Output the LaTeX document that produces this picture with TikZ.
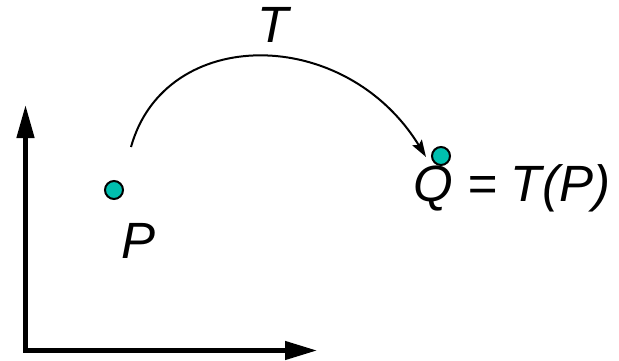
\documentclass[tikz,border=0pt]{standalone}
\usepackage{fontspec}
\setmainfont{Liberation Sans}
\usetikzlibrary{arrows.meta}
\definecolor{dotteal}{RGB}{0,191,175}
\tikzset{
  pt/.style={circle, draw=black, line width=2pt, fill=dotteal, minimum size=18pt, inner sep=0pt},
  lbl/.style={inner sep=0pt, font=\fontsize{51}{58}\selectfont\itshape},
  axis/.style={line width=4.5pt, line join=miter, {Triangle[length=33pt,width=17pt]}-{Triangle[length=32pt,width=18pt]}},
  mapping/.style={line width=2pt, -{Stealth[length=17pt,width=11pt,inset=3pt]}}
}
\begin{document}
\begin{tikzpicture}[x=1pt,y=-1pt]
\useasboundingbox (0,0) rectangle (619,361);
\node[pt] (P) at (114,190) {};
\node[pt] (Q) at (441,156) {};
\node[lbl, anchor=base] (Plbl) at (139,258) {P};
\node[lbl, anchor=base west] (Qlbl) at (413,201) {Q = T(P)};
\node[lbl, anchor=base] (Tlbl) at (273,43) {T};
\coordinate (ytip) at (25.5,105);
\coordinate (origin) at (25.5,350.5);
\coordinate (xtip) at (317,350.5);
\draw[axis] (ytip) -- (origin) -- (xtip);
\coordinate (a0) at (131,147);
\coordinate (a1) at (426,157);
\draw[mapping] (a0) .. controls (165,25) and (345,25) .. (a1);
\end{tikzpicture}
\end{document}
